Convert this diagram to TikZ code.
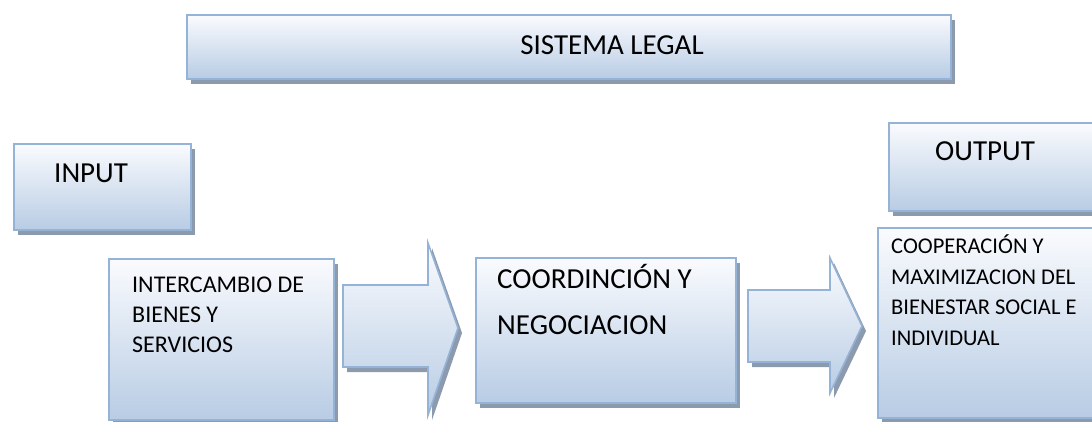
\documentclass[tikz,border=0pt]{standalone}
\usepackage{fontspec}
\setmainfont{Carlito}
\usetikzlibrary{shadows}
\definecolor{boxtop}{RGB}{250,251,254}
\definecolor{boxbot}{RGB}{184,204,228}
\definecolor{boxline}{RGB}{149,179,215}
\definecolor{boxshadow}{RGB}{140,154,174}
\tikzset{
  panel/.style={draw=boxline, line width=1.6pt, top color=boxtop, bottom color=boxbot,
    drop shadow={shadow xshift=4pt, shadow yshift=-5pt, fill=boxshadow, opacity=1}},
  boxnode/.style={panel, anchor=north west, inner sep=0pt, rectangle},
  bigtxt/.style={font=\fontsize{29}{34}\selectfont, anchor=base west, inner sep=0pt},
  smalltxt/.style={font=\fontsize{22.5}{30}\selectfont, anchor=base west, inner sep=0pt},
}
\begin{document}
\begin{tikzpicture}[x=1pt,y=-1pt]
\useasboundingbox (0,0) rectangle (1092,421);
\clip (0,0) rectangle (1092,421);
% boxes
\node[boxnode, minimum width=764pt, minimum height=64pt] (legal) at (186,14) {};
\node[boxnode, minimum width=177pt, minimum height=86pt] (input) at (13,143) {};
\node[boxnode, minimum width=230pt, minimum height=88pt] (output) at (888,122) {};
\node[boxnode, minimum width=225pt, minimum height=161pt] (inter) at (108,258) {};
\node[boxnode, minimum width=260pt, minimum height=145pt] (coord) at (475,257) {};
\node[boxnode, minimum width=240pt, minimum height=190pt] (coop) at (877,227) {};
% block arrows
\path[panel] (343,285) -- (428,285) -- (428,243) -- (458,328) -- (428,415) -- (428,367) -- (343,367) -- cycle;
\path[panel] (748,290) -- (830,290) -- (830,258) -- (862,326) -- (830,393) -- (830,362) -- (748,362) -- cycle;
% texts
\node[bigtxt, anchor=base] (tlegal) at (612,54) {SISTEMA LEGAL};
\node[bigtxt] (tinput) at (54,182) {INPUT};
\node[bigtxt] (toutput) at (935,160) {OUTPUT};
\node[bigtxt] (tcoord1) at (497,288) {COORDINCIÓN Y};
\node[bigtxt] (tcoord2) at (497,334) {NEGOCIACION};
\node[smalltxt, font=\fontsize{24}{30}\selectfont] (tinter1) at (132,292) {INTERCAMBIO DE};
\node[smalltxt, font=\fontsize{24}{30}\selectfont] (tinter2) at (132,322) {BIENES Y};
\node[smalltxt, font=\fontsize{24}{30}\selectfont] (tinter3) at (132,352) {SERVICIOS};
\node[smalltxt] (tcoop1) at (891,253) {COOPERACIÓN Y};
\node[smalltxt] (tcoop2) at (891,284) {MAXIMIZACION DEL};
\node[smalltxt] (tcoop3) at (891,314) {BIENESTAR SOCIAL E};
\node[smalltxt] (tcoop4) at (891,345) {INDIVIDUAL};
\end{tikzpicture}
\end{document}
